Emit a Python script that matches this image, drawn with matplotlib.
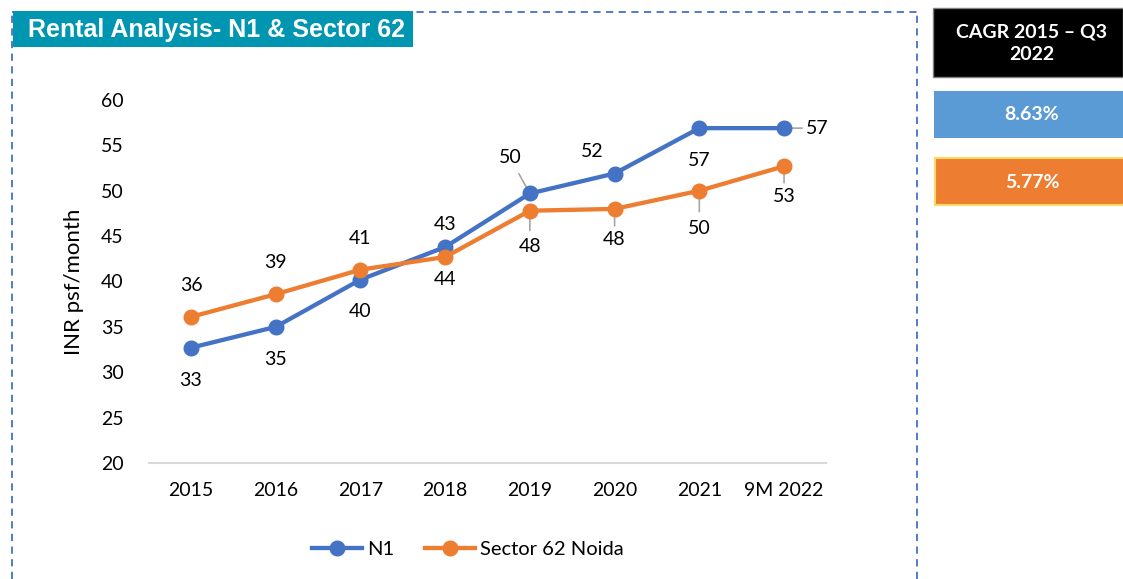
import matplotlib
matplotlib.use("Agg")
import matplotlib.pyplot as plt
from matplotlib.patches import Rectangle
from matplotlib.lines import Line2D

plt.rcParams['font.family'] = ['Lato', 'DejaVu Sans']

years = ['2015', '2016', '2017', '2018', '2019', '2020', '2021', '9M 2022']
n1 = [32.7, 35.0, 40.2, 43.8, 49.7, 51.9, 56.9, 56.9]
sector62 = [36.1, 38.6, 41.3, 42.7, 47.8, 48.0, 50.0, 52.7]
cagr_n1 = '8.63%'
cagr_s62 = '5.77%'

# where each data label sits relative to its point: (dx px, dy px)
n1_pos = [(0, -33), (0, -33), (0, -32), (0, -32), (-20, 36), (-22, 22), (0, -32), (33, 0)]
s62_pos = [(0, 31), (0, 32), (0, 31), (0, 32), (0, -36), (0, -31), (0, -38), (0, -30)]
n1_leader = [False, False, False, False, True, False, False, True]
s62_leader = [False, False, False, False, True, True, True, True]

BLUE = '#4472C4'
ORANGE = '#ED7D31'
W, H = 1123, 579

fig = plt.figure(figsize=(W / 100, H / 100), dpi=100)
ax = fig.add_axes([148.6 / W, (H - 463) / H, 677.8 / W, 363 / H])

x = list(range(len(years)))
ax.plot(x, n1, color=BLUE, lw=3.1, marker='o', ms=10.5, label='N1', zorder=3)
ax.plot(x, sector62, color=ORANGE, lw=3.1, marker='o', ms=10.5, label='Sector 62 Noida', zorder=3)

ax.set_xlim(-0.5, len(years) - 0.5)
ax.set_ylim(20, 60)
ax.set_yticks(range(20, 61, 5))
ax.set_xticks(x)
ax.set_xticklabels(years)
ax.tick_params(length=0, labelsize=14, pad=14)
ax.tick_params(axis='y', pad=18)
for s in ['top', 'right', 'left']:
    ax.spines[s].set_visible(False)
ax.spines['bottom'].set_color('#D9D9D9')
ax.spines['bottom'].set_linewidth(1.5)
ax.set_ylabel('INR psf/month', fontsize=16, labelpad=12)


def label_points(vals, pos, leaders):
    for i, (v, (dx, dy), lead) in enumerate(zip(vals, pos, leaders)):
        ax.annotate(f'{v:.0f}', (i, v), xytext=(dx * 0.72, dy * 0.72),
                    textcoords='offset points', ha='center', va='center',
                    fontsize=14, color='#000000')
        if lead:
            ax.annotate('', (i, v), xytext=(dx * 0.72 * 0.55, dy * 0.72 * 0.55),
                        textcoords='offset points',
                        arrowprops=dict(arrowstyle='-', color='#A6A6A6', lw=1.2,
                                        shrinkA=0, shrinkB=0), zorder=2)


label_points(n1, n1_pos, n1_leader)
label_points(sector62, s62_pos, s62_leader)

leg = fig.legend(loc='center', bbox_to_anchor=(468 / W, 1 - 549 / H), ncol=2,
                 frameon=False, fontsize=14.5, handlelength=2.5, columnspacing=1.5,
                 handletextpad=0.25)

# dashed frame around the chart
dash = dict(color=BLUE, lw=1.3, ls=(0, (4, 3)), transform=fig.transFigure)
fig.add_artist(Line2D([12 / W, 12 / W], [0, 1 - 12 / H], **dash))
fig.add_artist(Line2D([12 / W, 917 / W], [1 - 12 / H, 1 - 12 / H], **dash))
fig.add_artist(Line2D([917 / W, 917 / W], [0, 1 - 12 / H], **dash))

# title banner
fig.add_artist(Rectangle((13 / W, 1 - 47 / H), 400 / W, 36 / H, transform=fig.transFigure,
                         facecolor='#0095B1', edgecolor='none', zorder=4))
fig.text(28 / W, 1 - 30 / H, 'Rental Analysis- N1 & Sector 62', color='white',
         fontsize=18, fontweight='bold', family='Liberation Sans', va='center', zorder=5)

# CAGR side panel
fig.add_artist(Rectangle((933 / W, 1 - 77 / H), 190 / W, 69 / H, transform=fig.transFigure,
                         facecolor='black', edgecolor='#7F7F7F', lw=1))
fig.text(1032 / W, 1 - 43 / H, 'CAGR 2015 – Q3\n2022', color='white', fontsize=14,
         fontweight='bold', ha='center', va='center', linespacing=1.4)
fig.add_artist(Rectangle((934 / W, 1 - 138 / H), 189 / W, 47 / H, transform=fig.transFigure,
                         facecolor='#5B9BD5', edgecolor='none'))
fig.text(1032 / W, 1 - 115 / H, cagr_n1, color='white', fontsize=14,
         fontweight='bold', ha='center', va='center')
fig.add_artist(Rectangle((935 / W, 1 - 205 / H), 189 / W, 47 / H, transform=fig.transFigure,
                         facecolor=ORANGE, edgecolor='#FFD966', lw=1.5))
fig.text(1032 / W, 1 - 183 / H, cagr_s62, color='white', fontsize=14,
         fontweight='bold', ha='center', va='center')

fig.savefig('out.png', dpi=100)
